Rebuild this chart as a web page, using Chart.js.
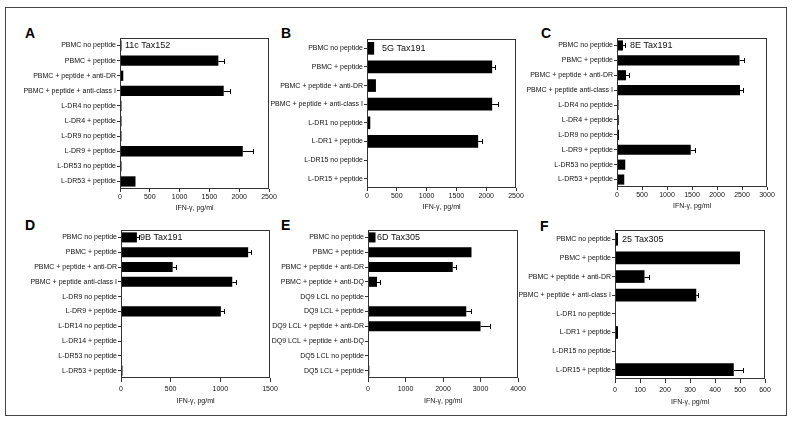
<!DOCTYPE html>
<html>
<head>
<meta charset="utf-8">
<script src="https://cdn.jsdelivr.net/npm/chart.js@4.4.1/dist/chart.umd.min.js"></script>
<style>
  html, body { margin: 0; padding: 0; background: #fff; }
  #wrap { position: relative; width: 800px; height: 431px; overflow: hidden; }
  #frame { position: absolute; left: 5px; top: 7px; width: 780px; height: 407px; border: 1px solid #444; }
  canvas { position: absolute; }
  .letter { position: absolute; font: bold 14px "Liberation Sans", Arial, sans-serif; line-height: 14px; color: #000; }
</style>
</head>
<body>
<div id="wrap">
  <div id="frame"></div>
  <div class="letter" style="left:25px;top:26px">A</div>
  <div class="letter" style="left:281px;top:26px">B</div>
  <div class="letter" style="left:541px;top:26px">C</div>
  <div class="letter" style="left:25px;top:218px">D</div>
  <div class="letter" style="left:281px;top:218px">E</div>
  <div class="letter" style="left:540px;top:219px">F</div>
</div>
<script>
// data per panel
const aLabels = ['PBMC no peptide', 'PBMC + peptide', 'PBMC + peptide + anti-DR', 'PBMC + peptide + anti-class I',
  'L-DR4 no peptide', 'L-DR4 + peptide', 'L-DR9 no peptide', 'L-DR9 + peptide', 'L-DR53 no peptide', 'L-DR53 + peptide'];
const aValues = [25, 1650, 55, 1740, 25, 25, 25, 2060, 25, 260];
const aErrors = [0, 100, 0, 110, 0, 0, 0, 170, 0, 0];

const bLabels = ['PBMC no peptide', 'PBMC + peptide', 'PBMC + peptide + anti-DR', 'PBMC + peptide + anti-class I',
  'L-DR1 no peptide', 'L-DR1 + peptide', 'L-DR15 no peptide', 'L-DR15 + peptide'];
const bValues = [120, 2100, 150, 2100, 55, 1865, 0, 0];
const bErrors = [0, 55, 0, 100, 0, 65, 0, 0];

const cLabels = ['PBMC no peptide', 'PBMC + peptide', 'PBMC + peptide + anti-DR', 'PBMC + peptide anti-class I',
  'L-DR4 no peptide', 'L-DR4 + peptide', 'L-DR9 no peptide', 'L-DR9 + peptide', 'L-DR53 no peptide', 'L-DR53 + peptide'];
const cValues = [120, 2450, 180, 2460, 30, 35, 40, 1475, 165, 145];
const cErrors = [45, 80, 55, 65, 0, 0, 0, 80, 0, 0];

const dLabels = ['PBMC no peptide', 'PBMC + peptide', 'PBMC + peptide + anti-DR', 'PBMC + peptide anti-class I',
  'L-DR9 no peptide', 'L-DR9 + peptide', 'L-DR14 no peptide', 'L-DR14 + peptide', 'L-DR53 no peptide', 'L-DR53 + peptide'];
const dValues = [160, 1280, 520, 1120, 0, 1005, 0, 0, 0, 15];
const dErrors = [25, 25, 30, 35, 0, 30, 0, 0, 0, 0];

const eLabels = ['PBMC no peptide', 'PBMC + peptide', 'PBMC + peptide + anti-DR', 'PBMC + peptide + anti-DQ',
  'DQ9 LCL no peptide', 'DQ9 LCL + peptide', 'DQ9 LCL + peptide + anti-DR', 'DQ9 LCL + peptide + anti-DQ',
  'DQ5 LCL no peptide', 'DQ5 LCL + peptide'];
const eValues = [200, 2760, 2260, 240, 0, 2620, 3000, 0, 0, 35];
const eErrors = [0, 0, 80, 90, 0, 135, 265, 0, 0, 0];

const fLabels = ['PBMC no peptide', 'PBMC + peptide', 'PBMC + peptide + anti-DR', 'PBMC + peptide + anti-class I',
  'L-DR1 no peptide', 'L-DR1 + peptide', 'L-DR15 no peptide', 'L-DR15 + peptide'];
const fValues = [12, 500, 118, 325, 0, 12, 0, 475];
const fErrors = [0, 0, 17, 7, 0, 0, 0, 35];

const clones = ['11c Tax152', '5G Tax191', '8E Tax191', '9B Tax191', '6D Tax305', '25 Tax305'];
const xMax = [2500, 2500, 3000, 1500, 4000, 600];
const xStep = [500, 500, 500, 500, 1000, 100];
const xTitle = 'IFN-\u03b3, pg/ml';

// plot boxes [left, top, right, bottom] and clone label offset
const boxes = [
  [120, 38, 269, 189], [367, 39, 516, 188], [617, 38, 767, 187],
  [121, 230, 270, 378], [368, 230, 518, 378], [615, 230, 765, 379]
];
const tagOffset = [5, 15, 13, 19, 9, 7];
// x axis spacing per panel: tick length, label padding, axis box height
const tickLen = [3, 3, 3, 4, 4, 4];
const tickPad = [1, 1, 1, 3, 3, 3];
const axisH = [23, 23, 23, 27, 27, 27];

const FONT = '"Liberation Sans", Arial, sans-serif';
Chart.defaults.font.family = FONT;

// frame round the plot, error bars and the clone name
const panelDecor = {
  id: 'panelDecor',
  afterDatasetsDraw(chart, args, opts) {
    const { ctx, chartArea: a, scales: { x, y } } = chart;
    const vals = chart.data.datasets[0].data;
    ctx.save();
    ctx.strokeStyle = '#000';
    ctx.lineWidth = 1;
    opts.errors.forEach((e, i) => {
      if (!e) return;
      const x0 = x.getPixelForValue(vals[i]);
      const x1 = Math.round(x.getPixelForValue(vals[i] + e)) + 0.5;
      const yc = Math.round(y.getPixelForValue(i)) + 0.5;
      ctx.beginPath();
      ctx.moveTo(x0, yc);
      ctx.lineTo(x1, yc);
      ctx.moveTo(x1, yc - 2.5);
      ctx.lineTo(x1, yc + 2.5);
      ctx.stroke();
    });
    ctx.strokeStyle = '#333';
    ctx.strokeRect(a.left + 0.5, a.top + 0.5, a.width - 1, a.height - 1);
    ctx.fillStyle = '#111';
    ctx.font = '9px ' + FONT;
    ctx.textBaseline = 'middle';
    ctx.fillText(opts.tag, a.left + opts.tagX, y.getPixelForValue(0));
    ctx.restore();
  }
};

function makePanel(i, labels, values, errors) {
  const [l, t, r, b] = boxes[i];
  const cv = document.createElement('canvas');
  const w = (r - l) + 134, h = (b - t) + 6 + axisH[i];
  cv.width = w; cv.height = h;
  cv.style.left = (l - 120) + 'px';
  cv.style.top = (t - 6) + 'px';
  document.getElementById('wrap').appendChild(cv);

  new Chart(cv.getContext('2d'), {
    type: 'bar',
    data: {
      labels: labels,
      datasets: [{
        data: values,
        backgroundColor: '#000',
        borderWidth: 0,
        barPercentage: 0.68,
        categoryPercentage: 1
      }]
    },
    options: {
      indexAxis: 'y',
      responsive: false,
      animation: false,
      layout: { padding: { top: 6, right: 14, left: 0, bottom: 0 } },
      plugins: {
        legend: { display: false },
        tooltip: { enabled: false },
        panelDecor: { errors: errors, tag: clones[i], tagX: tagOffset[i] }
      },
      scales: {
        x: {
          min: 0,
          max: xMax[i],
          ticks: { stepSize: xStep[i], font: { size: 7 }, color: '#111', padding: tickPad[i], maxRotation: 0,
            callback: v => String(v) },
          grid: { drawOnChartArea: false, tickLength: tickLen[i], color: '#333' },
          border: { display: false },
          title: { display: true, text: xTitle, font: { size: 7 }, color: '#111', padding: 0 },
          afterFit: s => { s.height = axisH[i]; }
        },
        y: {
          ticks: { font: { size: 7 }, color: '#111', padding: 1, autoSkip: false },
          grid: { drawOnChartArea: false, offset: false, tickLength: 3, color: '#333' },
          border: { display: false },
          afterFit: s => { s.width = 120; }
        }
      }
    },
    plugins: [panelDecor]
  });
}

makePanel(0, aLabels, aValues, aErrors);
makePanel(1, bLabels, bValues, bErrors);
makePanel(2, cLabels, cValues, cErrors);
makePanel(3, dLabels, dValues, dErrors);
makePanel(4, eLabels, eValues, eErrors);
makePanel(5, fLabels, fValues, fErrors);
</script>
</body>
</html>
